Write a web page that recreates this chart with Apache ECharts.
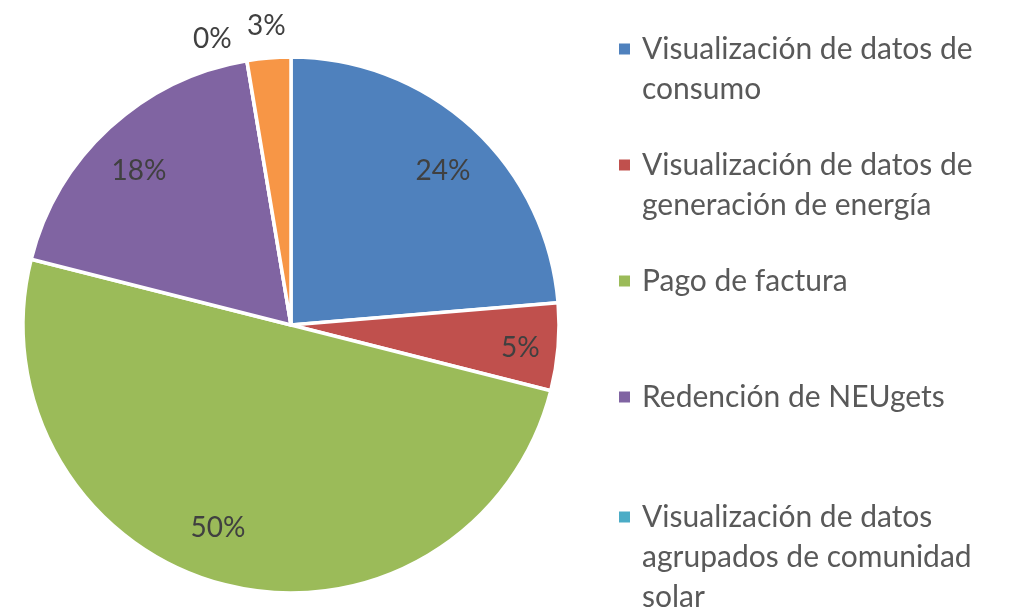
<!DOCTYPE html>
<html>
<head>
<meta charset="utf-8">
<script src="https://cdn.jsdelivr.net/npm/echarts@6/dist/echarts.min.js"></script>
<style>
  html, body { margin: 0; padding: 0; background: #fff; }
  #chart { width: 1015px; height: 608px; }
</style>
</head>
<body>
<div id="chart"></div>
<script>
var categories = [
    'Visualización de datos de consumo',
    'Visualización de datos de generación de energía',
    'Pago de factura',
    'Redención de NEUgets',
    'Visualización de datos agrupados de comunidad solar',
    'Otros'
];
var values = [9, 2, 19, 7, 0, 1];
var legendLines = [
    ['Visualización de datos de', 'consumo'],
    ['Visualización de datos de', 'generación de energía'],
    ['Pago de factura'],
    ['Redención de NEUgets'],
    ['Visualización de datos', 'agrupados de comunidad', 'solar'],
    ['Otros']
];
var colors = ['#4F81BD', '#C0504D', '#9BBB59', '#8064A2', '#4BACC6', '#F79646'];

var FONT = 'Lato';
var LINE_H = 40;
var firstLineY = [49, 165, 281, 397, 517, 640];
// nudges to mimic the label placement of the original
var labelShift = [[3, 8], [10, 5], [-19, -10], [-3, 8], [-8, -8], [23, -18]];

var chart = echarts.init(document.getElementById('chart'));

var legends = categories.map(function (name, i) {
    var k = legendLines[i].length;
    var blanks = new Array(k).join('\n');
    return {
        data: [name],
        orient: 'vertical',
        left: 617,
        top: firstLineY[i] - (2 * k - 1) * LINE_H / 2,
        padding: 0,
        itemWidth: 13,
        itemHeight: 13,
        icon: 'rect',
        selectedMode: false,
        formatter: function () { return blanks + legendLines[i].join('\n'); },
        textStyle: {
            fontFamily: FONT,
            fontSize: 30,
            color: '#595959',
            lineHeight: LINE_H,
            padding: [0, 0, 0, 6]
        }
    };
});

var pieData = categories.map(function (name, i) {
    return { name: name, value: values[i], itemStyle: { color: colors[i] } };
});

var labelData = categories.map(function (name, i) {
    var item = { name: name, value: values[i] };
    if (values[i] / 38 < 0.04) {
        item.label = { position: 'outside' };
    }
    return item;
});

chart.setOption({
    animation: false,
    legend: legends,
    series: [
        {
            type: 'pie',
            center: [291, 325],
            radius: [0, 268],
            startAngle: 90,
            clockwise: true,
            label: { show: false },
            labelLine: { show: false },
            itemStyle: { borderColor: '#fff', borderWidth: 3.5 },
            data: pieData
        },
        {
            type: 'pie',
            silent: true,
            center: [291, 325],
            radius: [166, 268],
            startAngle: 90,
            clockwise: true,
            avoidLabelOverlap: false,
            itemStyle: { color: 'transparent' },
            label: {
                show: true,
                position: 'inside',
                fontFamily: FONT,
                fontSize: 28,
                color: '#404040',
                formatter: function (p) { return Math.round(p.percent) + '%'; }
            },
            labelLine: { show: false, length: 14, length2: 0 },
            labelLayout: function (p) {
                var s = labelShift[p.dataIndex];
                return { dx: s[0], dy: s[1] };
            },
            data: labelData
        }
    ]
});
</script>
</body>
</html>
